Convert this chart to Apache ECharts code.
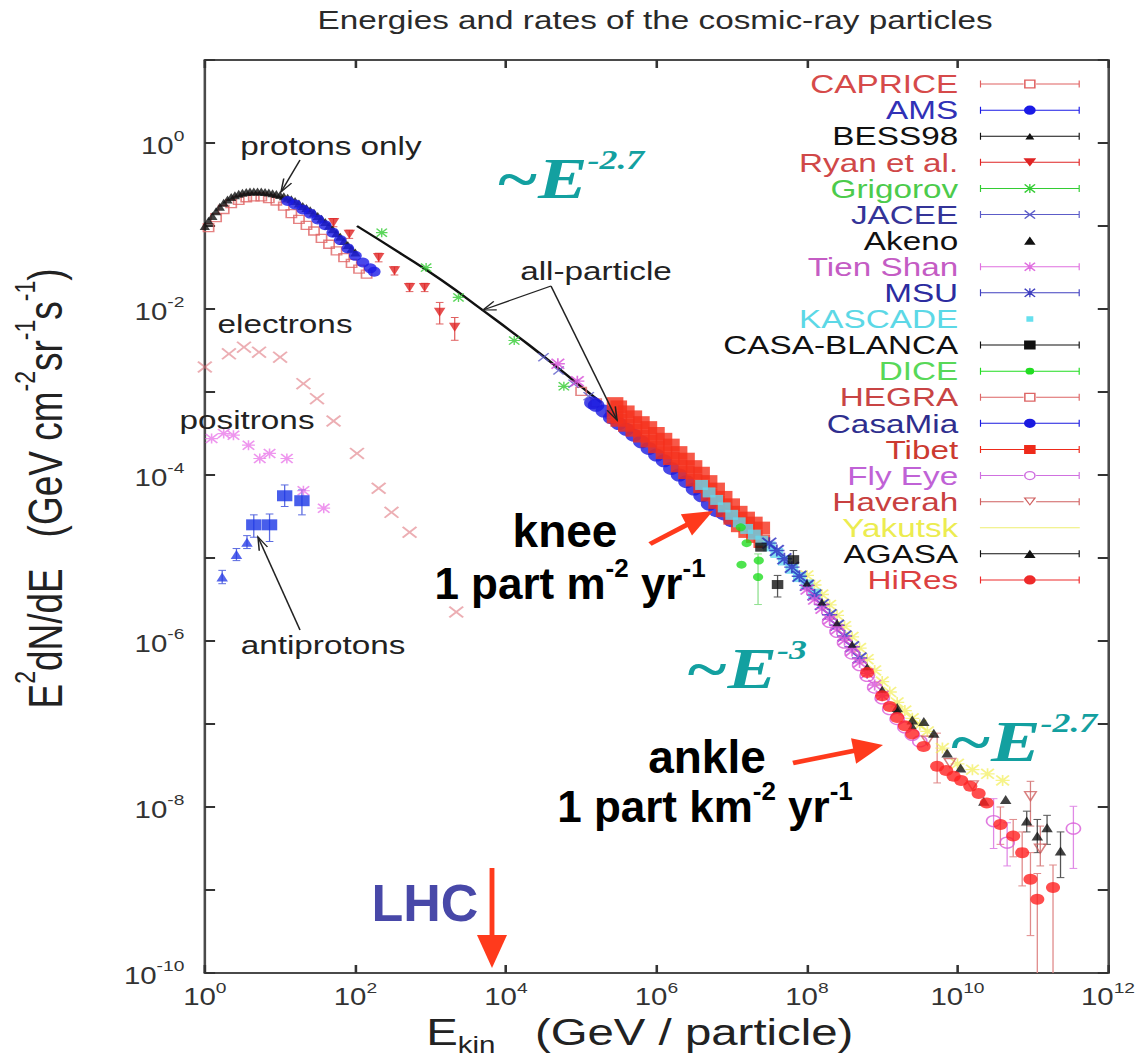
<!DOCTYPE html>
<html>
<head>
<meta charset="utf-8">
<script src="https://cdn.jsdelivr.net/npm/echarts@6/dist/echarts.min.js"></script>
<style>
html,body{margin:0;padding:0;background:#fff;overflow:hidden;}
#wrap{width:1142px;height:1062px;overflow:hidden;position:relative;background:#fff;}
#chart{width:892px;height:1062px;transform:scaleX(1.280269);transform-origin:0 0;}
</style>
</head>
<body>
<div id="wrap"><div id="chart"></div></div>
<script>
// ---------------- DATA (E in GeV, E^2 dN/dE in GeV cm^-2 sr^-1 s^-1) ----------------
const xTickExponents = [0, 2, 4, 6, 8, 10, 12];
const yTickExponents = [0, -2, -4, -6, -8, -10];

const capriceData = [[1.12,0.0955],[1.41,0.126],[1.78,0.158],[2.24,0.186],[2.82,0.204],[3.55,0.219],[4.47,0.224],[5.62,0.224],[7.08,0.214],[8.91,0.2],[11.2,0.174],[14.1,0.141],[17.8,0.12],[22.4,0.102],[28.2,0.0871],[35.5,0.0708],[44.7,0.0603],[56.2,0.0501],[70.8,0.0417],[89.1,0.0355],[112,0.0302],[141,0.0263]];
const amsData = [[12.6,0.2],[15.8,0.182],[20,0.158],[25.1,0.141],[31.6,0.12],[39.8,0.102],[50.1,0.0832],[63.1,0.0676],[79.4,0.0537],[100,0.0437],[126,0.0363],[158,0.0309],[178,0.0282]];
const bessData = [[1,0.1],[1.12,0.116],[1.26,0.132],[1.41,0.151],[1.58,0.17],[1.78,0.19],[2,0.209],[2.24,0.224],[2.51,0.234],[2.82,0.245],[3.16,0.251],[3.55,0.257],[3.98,0.26],[4.47,0.261],[5.01,0.26],[5.62,0.26],[6.31,0.257],[7.08,0.253],[7.94,0.248],[8.91,0.243],[10,0.237],[11.2,0.229],[12.6,0.219],[14.1,0.21],[15.8,0.2],[17.8,0.187],[20,0.174],[22.4,0.165],[25.1,0.155],[28.2,0.144],[31.6,0.132],[35.5,0.122],[39.8,0.112],[44.7,0.101],[50.1,0.0912],[56.2,0.0822],[63.1,0.0741],[70.8,0.0661],[79.4,0.0589],[89.1,0.0531],[100,0.0479]];
const ryanData = [[51.3,0.11],[83.2,0.0794],[204,0.0417],[331,0.0288],[525,0.0182],[832,0.0182],[1318,0.00912],[2089,0.00603]];
const ryanErr = [[51.3,0.098,0.123],[83.2,0.071,0.089],[204,0.037,0.047],[331,0.0257,0.0323],[525,0.0162,0.0204],[832,0.0162,0.0204],[1318,0.0066,0.012],[2089,0.0042,0.0079]];
const grigorovData = [[224,0.0832],[871,0.0316],[2344,0.0138],[12900,0.00417],[58900,0.00117]];
const jaceeData = [[3.16e4,2.63e-3],[5.01e4,1.82e-3],[7.94e4,1.26e-3],[1.26e5,8.91e-4]];
const akenoData = [[1e8,5.01e-6],[1.58e8,2.95e-6],[2.51e8,1.66e-6],[3.98e8,9.12e-7],[6.31e8,4.9e-7],[1e9,2.63e-7],[1.58e9,1.48e-7],[2.51e9,9.55e-8]];
const tienShanData = [[4.9e4,2.19e-3],[8.9e4,1.35e-3],[1e8,4.17e-6],[1.26e8,3.16e-6],[1.58e8,2.45e-6],[2e8,1.82e-6],[2.51e8,1.38e-6],[3.16e8,1.02e-6],[3.98e8,7.59e-7],[5.01e8,5.5e-7],[6.31e8,4.07e-7],[7.94e8,2.95e-7],[1e9,2.19e-7]];
const msuData = [[3.16e7,1.51e-5],[3.98e7,1.23e-5],[5.01e7,9.77e-6],[6.31e7,7.76e-6],[7.94e7,6.03e-6],[1e8,4.68e-6],[1.26e8,3.59e-6],[1.58e8,2.75e-6],[2e8,2.07e-6],[2.51e8,1.55e-6],[3.16e8,1.15e-6],[3.98e8,8.51e-7],[5.01e8,6.24e-7]];
const kascadeData = [[3.98e6,7.59e-5],[5.01e6,6.17e-5],[6.31e6,5.01e-5],[7.94e6,4.07e-5],[1e7,3.31e-5],[1.26e7,2.69e-5],[1.58e7,2.24e-5],[2e7,1.91e-5],[2.51e7,1.62e-5],[3.16e7,1.38e-5],[3.98e7,1.15e-5],[5.01e7,9.33e-6],[6.31e7,7.41e-6],[7.94e7,5.89e-6],[1e8,4.79e-6],[1.26e8,3.72e-6]];
const casaBlancaData = [[2.45e7,1.35e-5],[6.61e7,9.55e-6],[4.07e7,4.79e-6]];
const casaBlancaErr = [[6.61e7,8.13e-6,1.23e-5],[4.07e7,3.39e-6,6.17e-6]];
const diceData = [[1.32e7,2.34e-5],[1.58e7,1.51e-5],[1.35e7,8.32e-6],[2.29e7,9.33e-6],[2.24e7,5.89e-6]];
const diceErr = [[2.24e7,2.75e-6,1.12e-5]];
const hegraData = [[1e5,1.02e-3],[1.58e5,7.41e-4],[2.51e5,5.37e-4]];
const casaMiaData = [[1.41e5,7.41e-4],[1.58e5,6.92e-4],[2e5,5.89e-4],[2.51e5,4.9e-4],[3.16e5,4.17e-4],[3.98e5,3.55e-4],[5.01e5,3.02e-4],[6.31e5,2.51e-4],[7.94e5,2.09e-4],[1e6,1.74e-4],[1.26e6,1.48e-4],[1.58e6,1.2e-4],[2e6,1e-4],[2.51e6,8.32e-5],[3.16e6,6.76e-5],[3.98e6,5.62e-5],[5.01e6,4.47e-5],[6.31e6,3.72e-5],[7.94e6,3.39e-5],[1e7,2.82e-5]];
const tibetData = [
  [2.82e5,7.24e-4],[3.16e5,6.61e-4],[3.98e5,5.75e-4],[5.01e5,5.01e-4],[6.31e5,4.27e-4],[7.94e5,3.72e-4],[1e6,3.16e-4],[1.26e6,2.69e-4],[1.58e6,2.29e-4],[2e6,1.86e-4],[2.51e6,1.55e-4],[3.16e6,1.26e-4],[3.98e6,1.05e-4],[5.01e6,8.32e-5],[6.31e6,6.76e-5],[7.94e6,5.37e-5],[1e7,4.37e-5],[1.26e7,3.55e-5],[1.58e7,3.02e-5],[2e7,2.63e-5],[2.51e7,2.29e-5],
  [2.82e5,5.01e-4],[3.16e5,4.57e-4],[3.98e5,3.98e-4],[5.01e5,3.47e-4],[6.31e5,2.95e-4],[7.94e5,2.57e-4],[1e6,2.19e-4],[1.26e6,1.86e-4],[1.58e6,1.58e-4],[2e6,1.29e-4],[2.51e6,1.07e-4],[3.16e6,8.71e-5],[3.98e6,7.24e-5],[5.01e6,5.75e-5],[6.31e6,4.68e-5],[7.94e6,3.72e-5],[1e7,3.02e-5],[1.26e7,2.45e-5],[1.58e7,2.09e-5],[2e7,1.82e-5],[2.51e7,1.58e-5]
];
const flyEyeData = [[2e8,1.7e-6],[2.51e8,1.29e-6],[3.16e8,9.55e-7],[3.98e8,7.08e-7],[5.01e8,5.13e-7],[6.31e8,3.8e-7],[7.94e8,2.75e-7],[1e9,2.04e-7],[1.26e9,1.51e-7],[1.58e9,1.15e-7],[2e9,9.12e-8],[2.51e9,7.41e-8],[3.16e9,6.17e-8],[3.02e10,6.76e-9],[4.57e10,3.72e-9],[3.47e11,5.5e-9]];
const flyEyeErr = [[3.02e10,3.16e-9,1.26e-8],[4.57e10,1.95e-9,6.46e-9],[3.47e11,1.82e-9,1.02e-8]];
const haverahData = [[3.98e9,6.31e-8],[7.94e9,3.39e-8],[1.58e10,1.82e-8],[9.33e10,1.35e-8],[1.26e11,3.16e-9]];
const haverahErr = [[9.33e10,5.89e-9,2.04e-8],[1.26e11,1.95e-9,5.89e-9]];
const yakutskData = [[1e8,6.17e-6],[1.26e8,4.73e-6],[1.58e8,3.63e-6],[2e8,2.72e-6],[2.51e8,2.04e-6],[3.16e8,1.51e-6],[3.98e8,1.12e-6],[5.01e8,8.22e-7],[6.31e8,6.03e-7],[7.94e8,4.42e-7],[1e9,3.24e-7],[1.26e9,2.43e-7],[1.58e9,1.82e-7],[2e9,1.45e-7],[2.51e9,1.17e-7],[3.16e9,9.77e-8],[3.98e9,8.13e-8],[6.31e9,5.13e-8],[1e10,3.31e-8],[1.58e10,2.82e-8],[2.51e10,2.51e-8],[3.98e10,2.09e-8]];
const agasaData = [[1.58e9,1.58e-7],[2.51e9,1.12e-7],[3.57e9,1.07e-7],[4.85e9,7.76e-8],[7.29e9,4.47e-8],[1.1e10,2.95e-8],[2.24e10,1.17e-8],[4.37e10,1.23e-8],[8.32e10,6.76e-9],[1.15e11,4.47e-9],[1.55e11,5.62e-9],[2.34e11,2.95e-9]];
const agasaErr = [[8.32e10,5.01e-9,8.91e-9],[1.15e11,2.82e-9,7.08e-9],[1.55e11,3.55e-9,7.94e-9],[2.34e11,1.41e-9,5.01e-9]];
const hiresData = [[6.31e8,4.17e-7],[1e9,2.19e-7],[1.26e9,1.62e-7],[1.58e9,1.2e-7],[2e9,9.55e-8],[2.51e9,7.59e-8],[3.55e9,5.37e-8],[5.37e9,3.09e-8],[7.08e9,2.75e-8],[8.91e9,2.34e-8],[1.12e10,2.09e-8],[1.48e10,1.78e-8],[1.91e10,1.45e-8],[2.45e10,1.12e-8],[3.72e10,6.17e-9],[5.5e10,4.47e-9],[7.24e10,2.82e-9],[9.33e10,1.35e-9],[1.15e11,7.76e-10],[1.86e11,1.07e-9]];
const hiresErr = [[5.37e9,1.95e-8,7.76e-8],[3.72e10,3.55e-9,1e-8],[5.5e10,2.51e-9,7.08e-9],[7.24e10,1.12e-9,5.01e-9],[9.33e10,2.82e-10,2.82e-9],[1.15e11,1e-10,1.58e-9],[1.86e11,1e-10,2e-9]];
const allParticleData = [[105,0.1],[398,0.0468],[1380,0.0224],[4680,0.01],[2.0e4,3.72e-3],[8.13e4,1.35e-3],[1.86e5,7.41e-4]];
const electronData = [[1,2.0e-3],[2.09,2.88e-3],[3.31,3.47e-3],[5.25,3.02e-3],[10,2.63e-3],[20.4,1.26e-3],[30.9,8.32e-4],[51.3,4.47e-4],[105,1.82e-4],[204,6.92e-5],[302,3.55e-5],[525,2.04e-5],[2190,2.24e-6]];
const positronData = [[1.23,2.75e-4],[1.78,3.16e-4],[2.4,3.02e-4],[3.8,2.29e-4],[5.37,1.58e-4],[7.24,1.82e-4],[12.3,1.58e-4],[20.4,6.46e-5],[38,3.98e-5]];
const antiprotonTriData = [[1.7,5.89e-6],[2.63,1.1e-5],[3.63,1.55e-5]];
const antiprotonSqData = [[4.47,2.51e-5],[7.24,2.51e-5],[11.5,5.62e-5],[19.5,4.9e-5]];
const antiprotonErr = [[1.7,4.9e-6,7.1e-6],[2.63,9.3e-6,1.3e-5],[3.63,1.3e-5,1.86e-5],[4.47,1.78e-5,3.31e-5],[7.24,1.58e-5,3.39e-5],[11.5,4.17e-5,7.59e-5],[19.5,3.31e-5,6.61e-5]];

const legendNames = ['CAPRICE','AMS','BESS98','Ryan et al.','Grigorov','JACEE','Akeno','Tien Shan','MSU','KASCADE','CASA-BLANCA','DICE','HEGRA','CasaMia','Tibet','Fly Eye','Haverah','Yakutsk','AGASA','HiRes'];

// ---------------- LAYOUT HELPERS ----------------
const S = 1142 / 892;            // horizontal stretch of the picture
const X = v => v / S;             // picture x -> chart x
const SANS = 'Liberation Sans, Arial, Helvetica, sans-serif';
const SERIF = 'Liberation Serif, Times New Roman, serif';
const RED = '#ff3a1c';
const TEAL = '#13a0a0';

const SYM_X = 'path://M1 0L5 4L9 0L10 1L6 5L10 9L9 10L5 6L1 10L0 9L4 5L0 1Z';
const SYM_STAR = 'path://M1 0L5 4L9 0L10 1L6 5L10 9L9 10L5 6L1 10L0 9L4 5L0 1Z M4.4 0H5.6V10H4.4Z M0 4.4H10V5.6H0Z';
const SYM_DTRI = 'path://M0 0H10L5 9Z';

const XPTS = [[1,0],[5,4],[9,0],[10,1],[6,5],[10,9],[9,10],[5,6],[1,10],[0,9],[4,5],[0,1]];
function poly(pts, ox, oy, k) {
  return 'M' + pts.map(p => (ox + p[0]*k).toFixed(2) + ' ' + (oy + p[1]*k).toFixed(2)).join('L') + 'Z';
}
function legendIcon(mk, opt) {
  opt = opt || {};
  const cx = 51, r = 4.5;
  const p = ['M0 0h0.02v0.02h-0.02Z', 'M89.98 11.98h0.02v0.02h-0.02Z'];
  if (!opt.nobar) {
    if (!opt.nocaps) p.push('M12 2.5h0.9v7h-0.9Z', 'M89.1 2.5h0.9v7h-0.9Z');
    if (opt.open) {
      const g = r + 0.4;
      p.push('M12 5.5H' + (cx - g) + 'V6.5H12Z', 'M' + (cx + g) + ' 5.5H90V6.5H' + (cx + g) + 'Z');
    } else p.push('M12 5.5H90V6.5H12Z');
  }
  const circ = (rr, sw) => 'M' + (cx - rr) + ' 6A' + rr + ' ' + rr + ' 0 1 ' + sw + ' ' + (cx + rr) + ' 6A' + rr + ' ' + rr + ' 0 1 ' + sw + ' ' + (cx - rr) + ' 6Z';
  switch (mk) {
    case 'circ': p.push(circ(4.6, 1)); if (opt.open) p.push(circ(3.4, 0)); break;
    case 'scirc': p.push(circ(3.4, 1)); break;
    case 'sq': p.push('M46.5 1.5H55.5V10.5H46.5Z'); if (opt.open) p.push('M47.7 2.7V9.3H54.3V2.7Z'); break;
    case 'ssq': p.push('M48.3 3.3H53.7V8.7H48.3Z'); break;
    case 'tri': p.push(opt.small ? 'M51 2.8L54.5 9.2H47.5Z' : 'M51 1.8L55.5 10.2H46.5Z'); break;
    case 'dtri': p.push('M46 1.8H56L51 10.2Z'); if (opt.open) p.push('M47.9 2.9L51 8.3L54.1 2.9Z'); break;
    case 'x': p.push(poly(XPTS, 46.5, 1.5, 0.9)); break;
    case 'star': p.push(poly(XPTS, 46.5, 1.5, 0.9), 'M50.5 1.5H51.5V10.5H50.5Z'); break;
    default: break;
  }
  return 'path://' + p.join(' ');
}
const legendStyle = {
  'CAPRICE': ['#d64a4a', '#e06060', 'sq', {open: true}],
  'AMS': ['#3131b6', '#1a1ae6', 'circ'],
  'BESS98': ['#111111', '#111111', 'tri', {small: true}],
  'Ryan et al.': ['#d04848', '#e02424', 'dtri'],
  'Grigorov': ['#4ccb4c', '#33cc33', 'star'],
  'JACEE': ['#343498', '#5c5cc8', 'x'],
  'Akeno': ['#111111', '#111111', 'tri', {nobar: true}],
  'Tien Shan': ['#c45cc4', '#e070e0', 'star'],
  'MSU': ['#2c2ca0', '#4040c0', 'star'],
  'KASCADE': ['#5cd8e6', '#66e0ee', 'ssq', {nobar: true}],
  'CASA-BLANCA': ['#111111', '#111111', 'sq'],
  'DICE': ['#58d858', '#22dd22', 'scirc'],
  'HEGRA': ['#c84444', '#dd6666', 'sq', {open: true}],
  'CasaMia': ['#2e2e8e', '#1a1ae0', 'circ'],
  'Tibet': ['#cc3a30', '#ee2a1a', 'sq'],
  'Fly Eye': ['#c062d6', '#d070e0', 'circ', {open: true}],
  'Haverah': ['#c84040', '#d06060', 'dtri', {open: true}],
  'Yakutsk': ['#ecec50', '#eeee70', 'none', {nocaps: true}],
  'AGASA': ['#111111', '#111111', 'tri'],
  'HiRes': ['#dc4040', '#ee2a2a', 'circ']
};

// ---------------- SERIES BUILDERS ----------------
function sc(name, data, symbol, size, color, open, z) {
  return {
    type: 'scatter', name, data, symbol, symbolSize: size, silent: true, z: z || 3,
    itemStyle: open ? {color: 'rgba(255,255,255,0)', borderColor: color, borderWidth: 1.3} : {color},
    emphasis: {disabled: true}
  };
}
function errSeries(name, data, color, lw) {
  return {
    type: 'custom', name, data, silent: true, z: 2,
    encode: {x: 0, y: [1, 2]},
    renderItem(params, api) {
      const e = api.value(0), lo = api.value(1), hi = api.value(2);
      const cs = params.coordSys;
      const p1 = api.coord([e, hi]), p2 = api.coord([e, lo]);
      const top = Math.max(p1[1], cs.y), bot = Math.min(p2[1], cs.y + cs.height);
      const x = p1[0], w = 3;
      const style = {stroke: color, lineWidth: lw || 1};
      const ch = [{type: 'line', shape: {x1: x, y1: top, x2: x, y2: bot}, style}];
      if (p1[1] >= cs.y) ch.push({type: 'line', shape: {x1: x - w, y1: p1[1], x2: x + w, y2: p1[1]}, style});
      if (p2[1] <= cs.y + cs.height - 1) ch.push({type: 'line', shape: {x1: x - w, y1: p2[1], x2: x + w, y2: p2[1]}, style});
      return {type: 'group', children: ch};
    }
  };
}

const series = [
  errSeries('err-antiprotons', antiprotonErr, '#5a6ae0', 1),
  errSeries('err-Ryan', ryanErr, '#e06060', 1),
  errSeries('err-CASA-BLANCA', casaBlancaErr, '#555', 1),
  errSeries('err-DICE', diceErr, '#8fe08f', 1),
  errSeries('err-FlyEye', flyEyeErr, '#e08ae6', 1),
  errSeries('err-Haverah', haverahErr, '#d88080', 1),
  errSeries('err-AGASA', agasaErr, '#555', 1),
  errSeries('err-HiRes', hiresErr, '#e08a8a', 1),
  sc('electrons', electronData, SYM_X, 12, 'rgba(222,110,120,0.7)'),
  sc('positrons', positronData, SYM_STAR, 10, 'rgba(230,100,230,0.85)'),
  sc('antiprotons-tri', antiprotonTriData, 'triangle', 9, '#2a3ee6'),
  sc('antiprotons-sq', antiprotonSqData, 'rect', [12, 11], '#1a36e6'),
  sc('CAPRICE', capriceData, 'rect', 8, '#e06464', true),
  sc('BESS98', bessData, 'triangle', 8, '#111111'),
  sc('AMS', amsData, 'circle', 10, '#1a1ae6'),
  {type: 'line', name: 'all-particle', data: allParticleData, smooth: true, symbol: 'none', silent: true, z: 3,
   lineStyle: {color: '#111', width: 2.2}},
  sc('Ryan et al.', ryanData, SYM_DTRI, 9, '#e02424'),
  sc('Grigorov', grigorovData, SYM_STAR, 9, '#33cc33'),
  sc('HEGRA', hegraData, 'rect', 8, '#dd6666', true),
  sc('JACEE', jaceeData, SYM_X, 9, '#5c5cc8'),
  sc('CasaMia', casaMiaData, 'circle', 13, '#1a1ae0'),
  sc('Tibet', tibetData, 'rect', 13, '#f5301c'),
  sc('Yakutsk', yakutskData, SYM_STAR, 11, 'rgba(242,238,90,0.9)'),
  sc('KASCADE', kascadeData, 'rect', 10, '#66d8ee'),
  sc('MSU', msuData, SYM_STAR, 12, '#2a2ac0'),
  sc('Tien Shan', tienShanData, SYM_STAR, 11, '#d850d8'),
  sc('DICE', diceData, 'circle', 8, '#22dd22'),
  sc('CASA-BLANCA', casaBlancaData, 'rect', 9, '#111111'),
  sc('Fly Eye', flyEyeData, 'circle', 11, '#d85ad8', true),
  sc('Akeno', akenoData, 'triangle', 7, '#111111'),
  sc('Haverah', haverahData, SYM_DTRI, 9, '#d06060', true),
  sc('AGASA', agasaData, 'triangle', 9, '#111111'),
  sc('HiRes', hiresData, 'circle', 11, '#ff2020')
];

const legendData = legendNames.map(n => {
  const st = legendStyle[n];
  return {name: n, icon: legendIcon(st[2], st[3]), textStyle: {color: st[0]},
          itemStyle: {color: st[1], borderWidth: 0, opacity: 1}};
});

// ---------------- ANNOTATIONS ----------------
const G = [];
function txt(x, y, text, o) {
  o = o || {};
  G.push({type: 'text', x: X(x), y, z: 100, scaleX: o.sx || 1, silent: true,
    style: Object.assign({text, fill: o.color || '#222', fontSize: o.size || 26, fontFamily: o.family || SANS,
      fontWeight: o.weight || 'normal', fontStyle: o.style || 'normal', align: 'center', verticalAlign: 'middle'},
      o.rich ? {rich: o.rich} : {})});
}
function head(x1, y1, x2, y2, len, half) {
  const dx = x2 - x1, dy = y2 - y1, L = Math.hypot(dx, dy), ux = dx / L, uy = dy / L;
  const bx = x2 - ux * len, by = y2 - uy * len;
  return {bx, by, p1: [bx - uy * half, by + ux * half], p2: [bx + uy * half, by - ux * half]};
}
function redArrow(x1, y1, x2, y2, len, half, w) {
  const h = head(x1, y1, x2, y2, len, half);
  G.push({type: 'line', z: 100, silent: true, shape: {x1: X(x1), y1, x2: X(h.bx + (x2 - x1) * 0.02), y2: h.by + (y2 - y1) * 0.02},
    style: {stroke: RED, lineWidth: w, lineCap: 'butt'}});
  G.push({type: 'polygon', z: 100, silent: true, shape: {points: [[X(x2), y2], [X(h.p1[0]), h.p1[1]], [X(h.p2[0]), h.p2[1]]]},
    style: {fill: RED}});
}
function thinArrow(x1, y1, x2, y2) {
  const h = head(x1, y1, x2, y2, 13, 4.5);
  G.push({type: 'line', z: 100, silent: true, shape: {x1: X(x1), y1, x2: X(x2), y2}, style: {stroke: '#222', lineWidth: 1.2}});
  G.push({type: 'polyline', z: 100, silent: true, shape: {points: [[X(h.p1[0]), h.p1[1]], [X(x2), y2], [X(h.p2[0]), h.p2[1]]]},
    style: {stroke: '#222', lineWidth: 1.2, fill: null}});
}

txt(331, 146, 'protons only');
txt(285, 324, 'electrons');
txt(247, 420, 'positrons');
txt(323, 645, 'antiprotons');
txt(596, 271, 'all-particle');
thinArrow(300, 160, 281, 192);
thinArrow(551, 286, 483, 310);
thinArrow(551, 286, 617, 420);
thinArrow(300, 630, 258, 537);

const supRich = (base, sup, col, fam, lhB, lhS, extra) => ({
  b: Object.assign({fontSize: base, fontFamily: fam, fill: col, lineHeight: lhB, verticalAlign: 'bottom'}, extra || {}),
  s: Object.assign({fontSize: sup, fontFamily: fam, fill: col, lineHeight: lhS, verticalAlign: 'top'}, extra || {})
});
const tealRich = supRich(58, 28, TEAL, SERIF, 62, 34, {fontWeight: 'bold', fontStyle: 'italic'});
txt(570, 176, '{b|~E}{s|-2.7}', {rich: tealRich, color: TEAL, family: SERIF, weight: 'bold', style: 'italic', size: 58});
txt(746, 666, '{b|~E}{s|-3}', {rich: tealRich, color: TEAL, family: SERIF, weight: 'bold', style: 'italic', size: 58});
txt(1023, 739, '{b|~E}{s|-2.7}', {rich: tealRich, color: TEAL, family: SERIF, weight: 'bold', style: 'italic', size: 58});

const boldRich = supRich(44, 26, '#000', SANS, 50, 36, {fontWeight: 'bold'});
txt(565, 531, 'knee', {size: 46, weight: 'bold', color: '#000', sx: 1 / S});
txt(570, 580, '{b|1 part m}{s|-2}{b| yr}{s|-1}', {rich: boldRich, size: 44, weight: 'bold', color: '#000', sx: 1 / S});
txt(707, 757, 'ankle', {size: 46, weight: 'bold', color: '#000', sx: 1 / S});
txt(705, 803, '{b|1 part km}{s|-2}{b| yr}{s|-1}', {rich: boldRich, size: 44, weight: 'bold', color: '#000', sx: 1 / S});
txt(425, 903, 'LHC', {size: 52, weight: 'bold', color: '#4848a8', sx: 1 / S});

redArrow(650, 544, 713, 511, 30, 12, 4.5);
redArrow(793, 763, 883, 745, 30, 13, 4.5);
redArrow(492, 868, 492, 968, 33, 15, 3.8);

// ---------------- AXES ----------------
const tickRich = {
  b: {fontSize: 23, fontFamily: SANS, color: '#333', lineHeight: 29, verticalAlign: 'bottom'},
  s: {fontSize: 15, fontFamily: SANS, color: '#333', lineHeight: 16, verticalAlign: 'top'}
};
const expOf = v => Math.round(Math.log10(v));
const axisLineStyle = {color: '#4a4a4a', width: 2};
const tickStyle = {inside: true, length: 8, lineStyle: {color: '#333', width: 2}};

const option = {
  backgroundColor: '#fff',
  animation: false,
  title: {
    text: 'Energies and rates of the cosmic-ray particles',
    left: X(655), top: 7, padding: 0, textAlign: 'center',
    textStyle: {fontSize: 26, fontWeight: 'normal', fontFamily: SANS, color: '#2a2a2a'}
  },
  grid: {left: X(203), right: 892 - X(1108), top: 60, bottom: 84},
  legend: {
    orient: 'vertical', align: 'right', right: 48.6, top: 71, padding: 0, itemGap: 0,
    itemWidth: 90, itemHeight: 12, selectedMode: false, symbolKeepAspect: false,
    textStyle: {fontSize: 26, fontFamily: SANS, lineHeight: 26.1},
    itemStyle: {borderWidth: 0},
    data: legendData
  },
  xAxis: [
    {
      type: 'log', logBase: 10, min: 1, max: 1e12, interval: 2, splitNumber: 6, position: 'bottom',
      axisLine: {show: true, lineStyle: axisLineStyle}, axisTick: tickStyle,
      splitLine: {show: false}, minorTick: {show: false},
      axisLabel: {margin: 7, formatter: v => xTickExponents.includes(expOf(v)) ? '{b|10}{s|' + expOf(v) + '}' : '', rich: tickRich},
      name: '{b|E}{u|kin}{b|   (GeV / particle)}', nameLocation: 'middle', nameGap: 41,
      nameTextStyle: {padding: [0, 26, 0, 0], rich: {
        b: {fontSize: 37, fontFamily: SANS, color: '#222', lineHeight: 43, verticalAlign: 'top'},
        u: {fontSize: 23, fontFamily: SANS, color: '#222', lineHeight: 43, verticalAlign: 'bottom'}
      }}
    },
    {
      type: 'log', logBase: 10, min: 1, max: 1e12, interval: 2, splitNumber: 6, position: 'top',
      axisLine: {show: true, lineStyle: axisLineStyle}, axisTick: tickStyle,
      splitLine: {show: false}, axisLabel: {show: false}
    }
  ],
  yAxis: [
    {
      type: 'log', logBase: 10, min: 1e-10, max: 10, interval: 1, splitNumber: 11, position: 'left',
      axisLine: {show: true, lineStyle: axisLineStyle}, axisTick: tickStyle,
      splitLine: {show: false}, minorTick: {show: false},
      axisLabel: {margin: 16, formatter: v => yTickExponents.includes(expOf(v)) ? '{b|10}{s|' + expOf(v) + '}' : '', rich: tickRich},
      name: '{b|E}{s|2}{b|dN/dE   (GeV cm}{s|-2}{b|sr}{s|-1}{b|s}{s|-1}{b|)}',
      nameLocation: 'middle', nameRotate: 90, nameGap: 106,
      nameTextStyle: {padding: [0, 0, 0, 56], rich: {
        b: {fontSize: 37, fontFamily: SANS, color: '#222', lineHeight: 46, verticalAlign: 'bottom'},
        s: {fontSize: 23, fontFamily: SANS, color: '#222', lineHeight: 26, verticalAlign: 'top'}
      }}
    },
    {
      type: 'log', logBase: 10, min: 1e-10, max: 10, interval: 1, splitNumber: 11, position: 'right',
      axisLine: {show: true, lineStyle: axisLineStyle}, axisTick: tickStyle,
      splitLine: {show: false}, axisLabel: {show: false}
    }
  ],
  series: series,
  graphic: G
};

const chart = echarts.init(document.getElementById('chart'), null, {renderer: 'svg', width: 892, height: 1062});
chart.setOption(option);
</script>
</body>
</html>
